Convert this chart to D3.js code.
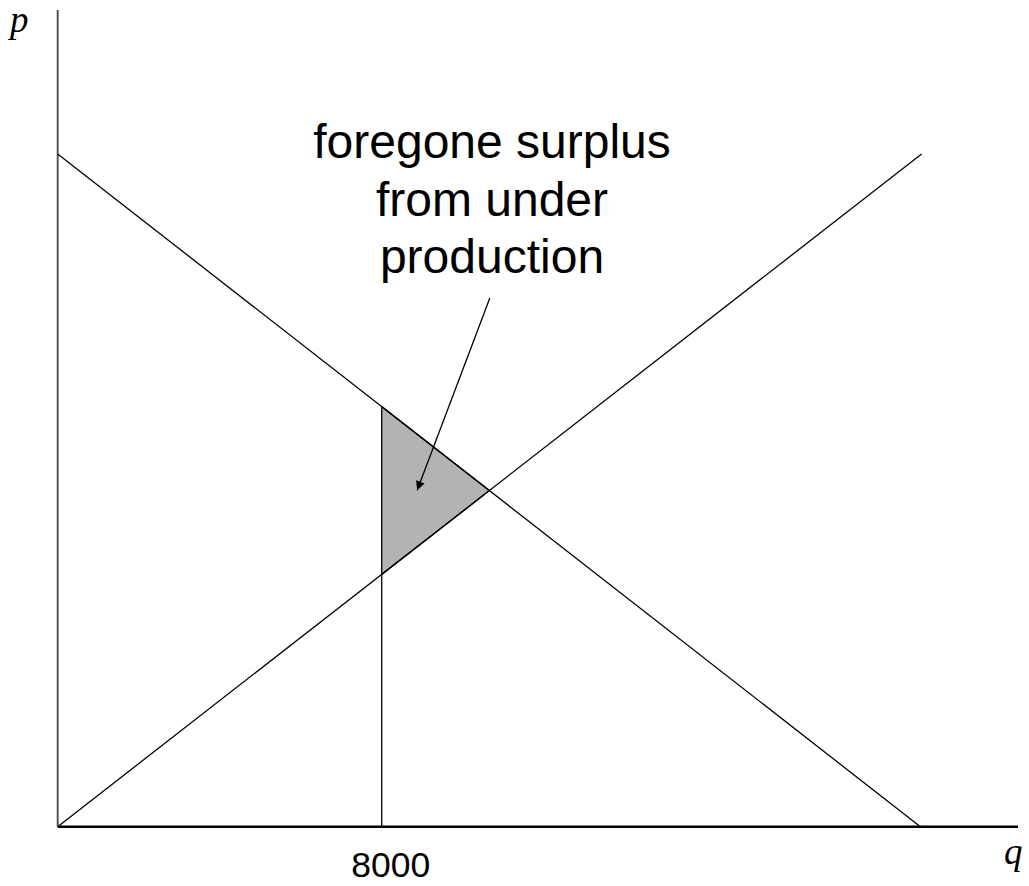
<!DOCTYPE html>
<html>
<head>
<meta charset="utf-8">
<script src="https://cdn.jsdelivr.net/npm/d3@7"></script>
<style>
  body { margin: 0; background: #fff; }
  svg { display: block; }
</style>
</head>
<body>
<svg></svg>
<script>
// Data (quantity q, price p in arbitrary units)
//------------------------------------------
var demandQ = [0, 21300];
var demandP = [20, 0];
var supplyQ = [0, 21330];
var supplyP = [0, 20];
var quotaQ = 8000;
var tickLabels = ["8000"];
var noteLines = ["foregone surplus", "from under", "production"];
var arrowQ = [10670, 8875];
var arrowP = [15.72, 10.0];

// Set up chart
//------------------------------------------
var svgWidth = 1029;
var svgHeight = 886;

var svg = d3.select("svg")
    .attr("width", svgWidth)
    .attr("height", svgHeight);

var xScale = d3.scaleLinear()
    .domain([0, 23710])
    .range([57.7, 1018]);

var yScale = d3.scaleLinear()
    .domain([0, 24.28])
    .range([826.7, 10]);

// line helpers
var demandAt = function(q) {
  return demandP[0] + (demandP[1] - demandP[0]) * (q - demandQ[0]) / (demandQ[1] - demandQ[0]);
};
var supplyAt = function(q) {
  return supplyP[0] + (supplyP[1] - supplyP[0]) * (q - supplyQ[0]) / (supplyQ[1] - supplyQ[0]);
};

// equilibrium where demand meets supply
var sD = (demandP[1] - demandP[0]) / (demandQ[1] - demandQ[0]);
var sS = (supplyP[1] - supplyP[0]) / (supplyQ[1] - supplyQ[0]);
var eqQ = (supplyP[0] - demandP[0]) / (sD - sS);
var eqP = demandAt(eqQ);

var line = d3.line()
    .x(d => xScale(d[0]))
    .y(d => yScale(d[1]));

// shaded deadweight triangle
var triangle = [[quotaQ, demandAt(quotaQ)], [eqQ, eqP], [quotaQ, supplyAt(quotaQ)]];
svg.append("path")
    .attr("d", line(triangle) + "Z")
    .attr("fill", "#b3b3b3")
    .attr("stroke", "none");

// axes
svg.append("line")
    .attr("x1", xScale(0)).attr("x2", xScale(0))
    .attr("y1", yScale(0)).attr("y2", yScale.range()[1])
    .attr("stroke", "#555")
    .attr("stroke-width", 2);

svg.append("line")
    .attr("x1", xScale(0)).attr("x2", xScale.range()[1])
    .attr("y1", yScale(0)).attr("y2", yScale(0))
    .attr("stroke", "#000")
    .attr("stroke-width", 2.5);

// demand and supply
svg.append("path")
    .attr("d", line(demandQ.map((q, i) => [q, demandP[i]])))
    .attr("fill", "none")
    .attr("stroke", "#000")
    .attr("stroke-width", 1.3);

svg.append("path")
    .attr("d", line(supplyQ.map((q, i) => [q, supplyP[i]])))
    .attr("fill", "none")
    .attr("stroke", "#000")
    .attr("stroke-width", 1.3);

// quota line
svg.append("line")
    .attr("x1", xScale(quotaQ)).attr("x2", xScale(quotaQ))
    .attr("y1", yScale(demandAt(quotaQ))).attr("y2", yScale(0))
    .attr("stroke", "#000")
    .attr("stroke-width", 1.3);

// triangle edges on the shaded part
svg.append("path")
    .attr("d", line(triangle))
    .attr("fill", "none")
    .attr("stroke", "#000")
    .attr("stroke-width", 1.3);

// tick label
svg.append("text")
    .attr("x", xScale(quotaQ) + 9)
    .attr("y", 877)
    .attr("text-anchor", "middle")
    .attr("font-family", "Liberation Sans, Arial, sans-serif")
    .attr("font-size", 35.5)
    .text(tickLabels[0]);

// axis labels
svg.append("text")
    .attr("x", 10)
    .attr("y", 32)
    .attr("font-family", "Liberation Serif, Times New Roman, serif")
    .attr("font-style", "italic")
    .attr("font-size", 37)
    .text("p");

svg.append("text")
    .attr("x", 1004)
    .attr("y", 864)
    .attr("font-family", "Liberation Serif, Times New Roman, serif")
    .attr("font-style", "italic")
    .attr("font-size", 37)
    .text("q");

// annotation
svg.append("defs").append("marker")
    .attr("id", "head")
    .attr("viewBox", "0 0 10 10")
    .attr("refX", 10).attr("refY", 5)
    .attr("markerWidth", 11).attr("markerHeight", 9)
    .attr("markerUnits", "userSpaceOnUse")
    .attr("orient", "auto")
  .append("path")
    .attr("d", "M0,0L10,5L0,10Z")
    .attr("fill", "#000");

svg.append("line")
    .attr("x1", xScale(arrowQ[0])).attr("y1", yScale(arrowP[0]))
    .attr("x2", xScale(arrowQ[1])).attr("y2", yScale(arrowP[1]))
    .attr("stroke", "#000")
    .attr("stroke-width", 1.3)
    .attr("marker-end", "url(#head)");

svg.append("text")
    .attr("x", 492)
    .attr("y", 158)
    .attr("text-anchor", "middle")
    .attr("font-family", "Liberation Sans, Arial, sans-serif")
    .attr("font-size", 48)
    .selectAll("tspan")
    .data(noteLines)
    .enter()
    .append("tspan")
    .attr("x", 492)
    .attr("dy", (d, i) => i === 0 ? 0 : 57.5)
    .text(d => d);
</script>
</body>
</html>
